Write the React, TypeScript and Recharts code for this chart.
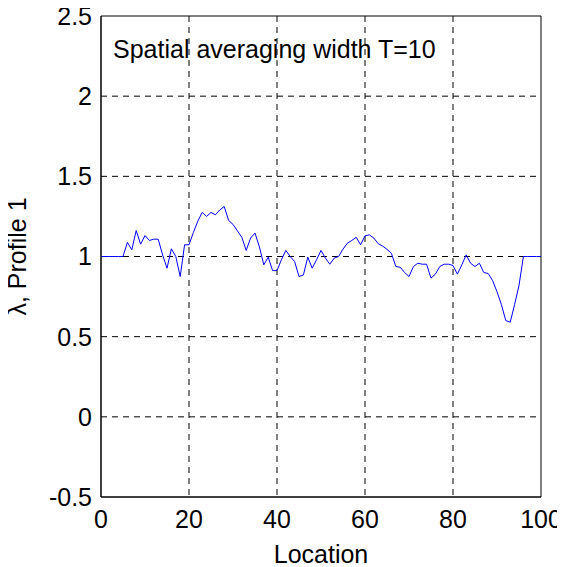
import React from "react";
import {
  LineChart,
  Line,
  XAxis,
  YAxis,
  CartesianGrid,
  ReferenceArea,
} from "recharts";

const locations: number[] = Array.from({ length: 101 }, (_, i) => i);

const lambdaValues: number[] = [
  1, 1, 1, 1, 1, 1, 1.088, 1.042, 1.162, 1.077,
  1.131, 1.1, 1.108, 1.108, 1.01, 0.927, 1.048, 1.0, 0.875, 1.073,
  1.073, 1.15, 1.22, 1.275, 1.25, 1.275, 1.26, 1.29, 1.312, 1.225,
  1.2, 1.16, 1.12, 1.038, 1.115, 1.146, 1.06, 0.948, 0.996, 0.912,
  0.912, 0.98, 1.038, 1.0, 0.969, 0.875, 0.885, 0.996, 0.927, 0.98,
  1.038, 0.99, 0.952, 0.99, 1.0, 1.046, 1.083, 1.1, 1.12, 1.073,
  1.129, 1.135, 1.115, 1.08, 1.065, 1.045, 1.02, 0.9375, 0.933, 0.9,
  0.875, 0.9375, 0.958, 0.952, 0.952, 0.865, 0.89, 0.9375, 0.952, 0.952,
  0.944, 0.89, 0.948, 1.01, 0.958, 0.9375, 0.958, 0.9, 0.894, 0.85,
  0.78, 0.7, 0.6, 0.59, 0.7, 0.82, 1, 1, 1, 1, 1,
];

const xTicks: number[] = [0, 20, 40, 60, 80, 100];
const yTicks: number[] = [-0.5, 0, 0.5, 1, 1.5, 2, 2.5];

const titleText = "Spatial averaging width T=10";
const xLabel = "Location";
const yLabel = "\u03bb, Profile 1";

const data = locations.map((loc, i) => ({ loc, v: lambdaValues[i] }));

const FONT = "'Liberation Sans', Arial, sans-serif";

export default function App() {
  return (
    <div
      style={{
        position: "relative",
        width: 565,
        height: 567,
        margin: "-8px 0 0 -8px",
        fontFamily: FONT,
        overflow: "hidden",
      }}
    >
      <LineChart
        width={565}
        height={567}
        data={data}
        margin={{ top: 16, right: 24, bottom: 0, left: 0 }}
      >
        <CartesianGrid
          stroke="#000"
          strokeDasharray="6 5"
          verticalValues={[20, 40, 60, 80]}
          horizontalValues={[0, 0.5, 1, 1.5, 2]}
        />
        <XAxis
          dataKey="loc"
          type="number"
          domain={[0, 100]}
          ticks={xTicks}
          height={70}
          tickLine={false}
          tickSize={0}
          tickMargin={13}
          axisLine={{ stroke: "#000", strokeWidth: 1 }}
          tick={{ fill: "#000", fontSize: 25, fontFamily: FONT }}
          label={{
            value: xLabel,
            position: "insideBottom",
            offset: 4,
            style: { fill: "#000", fontSize: 25, fontFamily: FONT },
          }}
        />
        <YAxis
          type="number"
          domain={[-0.5, 2.5]}
          ticks={yTicks}
          width={101}
          tickLine={false}
          tickSize={0}
          tickMargin={9}
          axisLine={{ stroke: "#000", strokeWidth: 1 }}
          tick={{ fill: "#000", fontSize: 25, fontFamily: FONT }}
          label={{
            value: yLabel,
            angle: -90,
            position: "insideLeft",
            offset: 17,
            style: { fill: "#000", fontSize: 25, fontFamily: FONT, textAnchor: "middle" },
          }}
        />
        <ReferenceArea
          x1={0}
          x2={100}
          y1={-0.5}
          y2={2.5}
          fill="none"
          fillOpacity={0}
          stroke="#000"
          strokeWidth={1}
          ifOverflow="visible"
        />
        <Line
          type="linear"
          dataKey="v"
          stroke="#0000ff"
          strokeWidth={1}
          dot={false}
          isAnimationActive={false}
        />
      </LineChart>
      <div
        style={{
          position: "absolute",
          left: 113,
          top: 34,
          fontSize: 25,
          fontFamily: FONT,
          color: "#000",
          whiteSpace: "nowrap",
          lineHeight: "30px",
        }}
      >
        {titleText}
      </div>
    </div>
  );
}
